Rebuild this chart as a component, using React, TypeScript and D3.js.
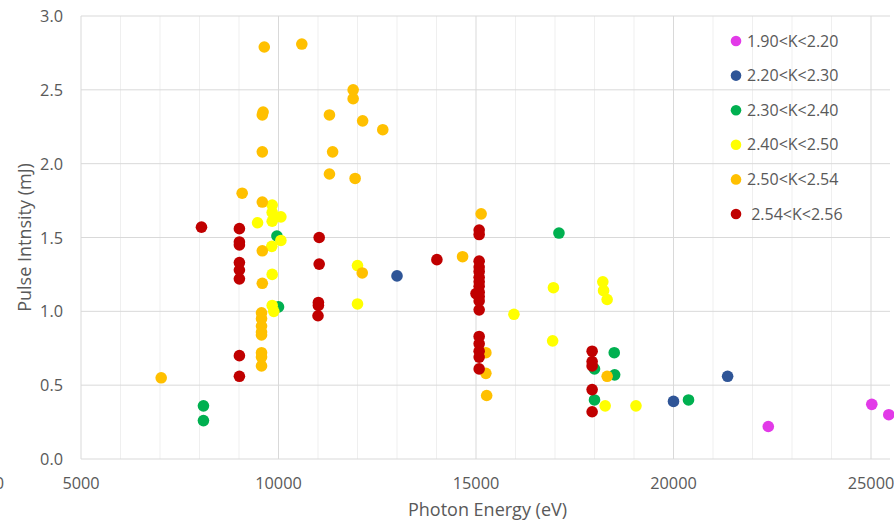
import { useEffect, useRef } from "react";
import * as d3 from "d3";

type Pt = [number, number];

// [photon energy (eV), pulse intensity (mJ)]
const k190_220: Pt[] = [
  [22400, 0.22], [25020, 0.37], [25450, 0.3],
];
const k220_230: Pt[] = [
  [13000, 1.24], [20000, 0.39], [21370, 0.56],
];
const k230_240: Pt[] = [
  [8100, 0.36], [8100, 0.26], [9960, 1.51], [10000, 1.03], [17100, 1.53],
  [18000, 0.61], [18500, 0.72], [18510, 0.57], [18000, 0.4], [20380, 0.4],
];
const k240_250: Pt[] = [
  [9840, 1.72], [9840, 1.67], [9470, 1.6], [9840, 1.61], [10060, 1.64],
  [10060, 1.48], [9830, 1.44], [9840, 1.25], [9840, 1.04], [9880, 1.0],
  [12000, 1.31], [12000, 1.05], [15960, 0.98], [16960, 1.16], [16940, 0.8],
  [18210, 1.2], [18230, 1.14], [18320, 1.08], [18270, 0.36], [19050, 0.36],
];
const k250_254: Pt[] = [
  [9640, 2.79], [10590, 2.81], [9610, 2.35], [9590, 2.33], [9590, 2.08],
  [9080, 1.8], [9590, 1.74], [9590, 1.41], [9590, 1.19], [9570, 0.99],
  [9570, 0.95], [9570, 0.9], [9570, 0.86], [9570, 0.84], [9570, 0.72],
  [9570, 0.69], [9570, 0.63], [7030, 0.55], [11290, 2.33], [11890, 2.5],
  [11890, 2.44], [12130, 2.29], [12640, 2.23], [11370, 2.08], [11290, 1.93],
  [11940, 1.9], [12120, 1.26], [14660, 1.37], [15130, 1.66], [15250, 0.72],
  [15250, 0.58], [15270, 0.43], [18320, 0.56],
];
const k254_256: Pt[] = [
  [8050, 1.57], [9010, 1.56], [9010, 1.47], [9010, 1.45], [9010, 1.33],
  [9010, 1.28], [9010, 1.22], [9010, 0.7], [9010, 0.56], [11030, 1.5],
  [11030, 1.32], [11010, 1.06], [11010, 1.04], [11000, 0.97], [14010, 1.35],
  [15080, 1.55], [15080, 1.52], [15080, 1.34], [15080, 1.3], [15080, 1.27],
  [15080, 1.23], [15080, 1.2], [15080, 1.17], [15080, 1.13], [15000, 1.12],
  [15080, 1.1], [15080, 1.07], [15080, 1.01], [15080, 0.83], [15080, 0.78],
  [15080, 0.73], [15080, 0.69], [15080, 0.61], [17940, 0.73], [17940, 0.66],
  [17940, 0.63], [17940, 0.47], [17940, 0.32],
];

const seriesNames = [
  "1.90<K<2.20",
  "2.20<K<2.30",
  "2.30<K<2.40",
  "2.40<K<2.50",
  "2.50<K<2.54",
  " 2.54<K<2.56",
];
const seriesData = [k190_220, k220_230, k230_240, k240_250, k250_254, k254_256];
const seriesColors = ["#e23ae8", "#2f5597", "#00b050", "#ffff00", "#ffc000", "#c00000"];

const xTicks = [5000, 10000, 15000, 20000, 25000];
const yTicks = [0, 0.5, 1.0, 1.5, 2.0, 2.5, 3.0];

export default function App() {
  const svgRef = useRef<SVGSVGElement>(null);

  useEffect(() => {
    const el = svgRef.current;
    if (!el) return;
    const svg = d3.select(el);
    svg.selectAll("*").remove();

    const W = 894;
    const H = 523;
    const left = 81;
    const right = 890;
    const top = 16;
    const bottom = 459;
    const font = "'Open Sans', sans-serif";
    const txt = "#595959";

    const xs = d3.scaleLinear().domain([5000, 25000]).range([left, 871]);
    const ys = d3.scaleLinear().domain([0, 3]).range([bottom, top]);
    const xMax = xs.invert(right);

    svg.attr("viewBox", `0 0 ${W} ${H}`);

    // minor vertical grid
    const minor = d3.range(6000, xMax, 1000).filter((d) => d % 5000 !== 0);
    svg
      .selectAll(".gmin")
      .data(minor)
      .enter()
      .append("line")
      .attr("x1", (d) => xs(d))
      .attr("x2", (d) => xs(d))
      .attr("y1", top)
      .attr("y2", bottom)
      .attr("stroke", "#efefef")
      .attr("stroke-width", 1);
    // major vertical grid
    svg
      .selectAll(".gmaj")
      .data(xTicks.slice(1))
      .enter()
      .append("line")
      .attr("x1", (d) => xs(d))
      .attr("x2", (d) => xs(d))
      .attr("y1", top)
      .attr("y2", bottom)
      .attr("stroke", "#d9d9d9")
      .attr("stroke-width", 1);
    // horizontal grid
    svg
      .selectAll(".gy")
      .data(yTicks)
      .enter()
      .append("line")
      .attr("x1", left)
      .attr("x2", right)
      .attr("y1", (d) => ys(d))
      .attr("y2", (d) => ys(d))
      .attr("stroke", "#d9d9d9")
      .attr("stroke-width", 1);
    // left axis line
    svg
      .append("line")
      .attr("x1", left)
      .attr("x2", left)
      .attr("y1", top)
      .attr("y2", bottom)
      .attr("stroke", "#d9d9d9");

    // tick labels
    svg
      .selectAll(".ty")
      .data(yTicks)
      .enter()
      .append("text")
      .attr("x", left - 18)
      .attr("y", (d) => ys(d) + 6)
      .attr("text-anchor", "end")
      .attr("fill", txt)
      .style("font-size", "16.3px")
      .style("font-family", font)
      .text((d) => d.toFixed(1));
    svg
      .selectAll(".tx")
      .data(xTicks)
      .enter()
      .append("text")
      .attr("x", (d) => xs(d))
      .attr("y", 489)
      .attr("text-anchor", "middle")
      .attr("fill", txt)
      .style("font-size", "16.3px")
      .style("font-family", font)
      .text((d) => String(d));
    // label cut off at the left edge, as in the source image
    svg
      .append("text")
      .attr("x", 4)
      .attr("y", 489)
      .attr("text-anchor", "end")
      .attr("fill", txt)
      .style("font-size", "16.3px")
      .style("font-family", font)
      .text("0");

    // axis titles
    svg
      .append("text")
      .attr("x", (left + right) / 2 + 2)
      .attr("y", 516)
      .attr("text-anchor", "middle")
      .attr("fill", txt)
      .style("font-size", "18px")
      .style("font-family", font)
      .text("Photon Energy (eV)");
    svg
      .append("text")
      .attr("transform", `translate(31,${(top + bottom) / 2}) rotate(-90)`)
      .attr("text-anchor", "middle")
      .attr("fill", txt)
      .style("font-size", "18px")
      .style("font-family", font)
      .text("Pulse Intnsity (mJ)");

    // points
    const plot = svg.append("g");
    seriesData.forEach((pts, i) => {
      plot
        .selectAll(`.s${i}`)
        .data(pts)
        .enter()
        .append("circle")
        .attr("cx", (d) => xs(d[0]))
        .attr("cy", (d) => ys(d[1]))
        .attr("r", 5.8)
        .attr("fill", seriesColors[i]);
    });

    // legend
    const lg = svg.append("g").attr("transform", "translate(736,41)");
    seriesNames.forEach((name, i) => {
      const g = lg.append("g").attr("transform", `translate(0,${i * 34.6})`);
      g.append("circle").attr("r", 5.3).attr("fill", seriesColors[i]);
      g.append("text")
        .attr("x", 11)
        .attr("y", 5.5)
        .attr("fill", txt)
        .style("font-size", "16px")
        .style("font-family", font)
        .style("white-space", "pre")
        .attr("xml:space", "preserve")
        .text(name);
    });
  }, []);

  return (
    <svg
      ref={svgRef}
      width={894}
      height={523}
      style={{ position: "absolute", left: 0, top: 0, background: "#fff" }}
    />
  );
}
